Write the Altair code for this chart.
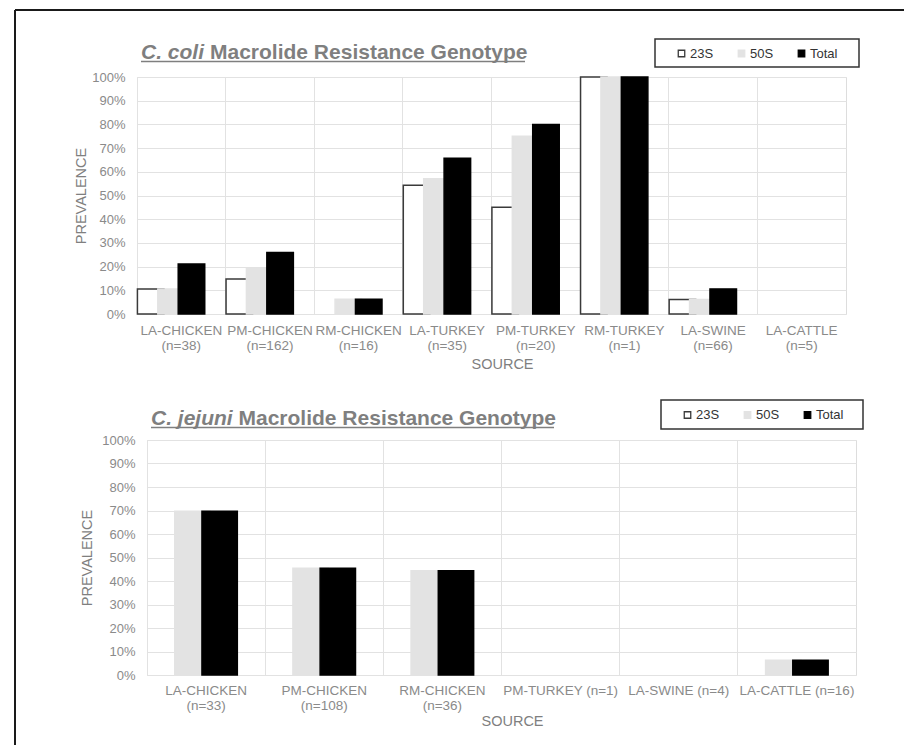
import altair as alt
import pandas as pd

# ---------------- data ----------------
SERIES = ["23S", "50S", "Total"]
SERIES_FILL = ["#ffffff", "#e3e3e3", "#000000"]
SERIES_STROKE = ["#3a3a3a", "#e3e3e3", "#000000"]

COLI_SOURCES = ["LA-CHICKEN\n(n=38)", "PM-CHICKEN\n(n=162)", "RM-CHICKEN\n(n=16)",
                "LA-TURKEY\n(n=35)", "PM-TURKEY\n(n=20)", "RM-TURKEY\n(n=1)",
                "LA-SWINE\n(n=66)", "LA-CATTLE\n(n=5)"]
COLI_23S = [0.105, 0.148, 0.0, 0.543, 0.45, 1.0, 0.061, 0.0]
COLI_50S = [0.105, 0.191, 0.0625, 0.571, 0.75, 1.0, 0.061, 0.0]
COLI_TOTAL = [0.211, 0.259, 0.0625, 0.657, 0.80, 1.0, 0.106, 0.0]

JEJUNI_SOURCES = ["LA-CHICKEN\n(n=33)", "PM-CHICKEN\n(n=108)", "RM-CHICKEN\n(n=36)",
                  "PM-TURKEY (n=1)", "LA-SWINE (n=4)", "LA-CATTLE (n=16)"]
JEJUNI_23S = [0.0, 0.0, 0.0, 0.0, 0.0, 0.0]
JEJUNI_50S = [0.697, 0.454, 0.444, 0.0, 0.0, 0.0625]
JEJUNI_TOTAL = [0.697, 0.454, 0.444, 0.0, 0.0, 0.0625]

Y_TICKS = [0.0, 0.1, 0.2, 0.3, 0.4, 0.5, 0.6, 0.7, 0.8, 0.9, 1.0]

TITLE_REST = "Macrolide Resistance Genotype"

# ---------------- styles ----------------
FONT = "Liberation Sans"
GRID = "#e2e2e2"
LABEL = "#8a8a8a"
AXTITLE = "#7f7f7f"
TITLE = "#7f7f7f"


def long_table(sources, v23, v50, vtot):
    rows = []
    for s, vals in zip(SERIES, [v23, v50, vtot]):
        for src, v in zip(sources, vals):
            rows.append({"source": src, "series": s, "value": v})
    return pd.DataFrame(rows)


def one():
    return alt.Data(values=[{"k": 0}])


def panel(sources, v23, v50, vtot, species, g, extra=None):
    df = long_table(sources, v23, v50, vtot)
    xscale = alt.Scale(domain=sources, paddingInner=0, paddingOuter=0)

    label_axis = alt.Axis(
        orient="bottom", title="SOURCE", titleFontSize=14.5, titleFontWeight="normal",
        titleColor=AXTITLE, titlePadding=g["x_title_pad"], titleX=365,
        labelAngle=0, labelFontSize=13.5, labelColor=LABEL, labelLineHeight=15,
        labelPadding=g["x_label_pad"], labelExpr="split(datum.label, '\\n')",
        labelLimit=400, ticks=False, domain=False, grid=False,
    )
    grid_axis = alt.Axis(
        orient="top", title=None, labels=False, ticks=False, domain=False,
        grid=True, gridColor=GRID, gridWidth=1, bandPosition=0,
    )
    legend = alt.Legend(
        title=None, orient="none", legendX=g["leg_x"], legendY=g["leg_y"],
        direction="horizontal", symbolType="square", symbolSize=42,
        symbolStrokeWidth=1.3, labelFontSize=13, labelColor="#333333",
        labelFont=FONT, columnPadding=21, labelOffset=2, padding=0,
        gridAlign="none",
    )

    grid_layer = alt.Chart(df).mark_point(opacity=0).encode(
        x=alt.X("source:N", sort=sources, scale=xscale, axis=grid_axis)
    )

    bars = alt.Chart(df).transform_filter("datum.value > 0").mark_bar(
        width=alt.RelativeBandSize(1.3), strokeWidth=1.5
    ).encode(
        x=alt.X("source:N", sort=sources, scale=xscale, axis=label_axis),
        xOffset=alt.XOffset("series:N", sort=SERIES,
                            scale=alt.Scale(domain=SERIES, paddingInner=0, paddingOuter=0.672)),
        y=alt.Y("value:Q", stack=None, scale=alt.Scale(domain=[0, 1], nice=False),
                axis=alt.Axis(values=Y_TICKS, format=".0%", labelFontSize=13,
                              labelColor=LABEL, labelPadding=12, ticks=False, domain=False,
                              grid=True, gridColor=GRID, title="PREVALENCE",
                              titleFontSize=14.5, titleFontWeight="normal",
                              titleColor=AXTITLE, titlePadding=g["y_title_pad"])),
        fill=alt.Fill("series:N", scale=alt.Scale(domain=SERIES, range=SERIES_FILL), legend=legend),
        stroke=alt.Stroke("series:N", scale=alt.Scale(domain=SERIES, range=SERIES_STROKE), legend=legend),
    )

    t1 = alt.Chart(one()).mark_text(
        text=species, font=FONT, fontSize=21, fontWeight="bold", fontStyle="italic",
        color=TITLE, align="left", baseline="alphabetic",
    ).encode(x=alt.value(4), y=alt.value(g["title_y"]))
    t2 = alt.Chart(one()).mark_text(
        text=TITLE_REST, font=FONT, fontSize=21, fontWeight="bold",
        color=TITLE, align="left", baseline="alphabetic",
    ).encode(x=alt.value(g["rest_x"]), y=alt.value(g["title_y"]))
    ul = alt.Chart(one()).mark_rule(color=TITLE, strokeWidth=1.5).encode(
        x=alt.value(4), x2=alt.value(g["ul_x2"]), y=alt.value(g["ul_y"])
    )
    box = alt.Chart(one()).mark_rect(filled=False, stroke="#333333", strokeWidth=1.5).encode(
        x=alt.value(g["box"][0]), x2=alt.value(g["box"][1]),
        y=alt.value(g["box"][2]), y2=alt.value(g["box"][3]),
    )
    layers = [grid_layer, bars, t1, t2, ul, box] + (extra or [])
    return alt.layer(*layers).resolve_axis(x="independent").properties(
        width=g["w"], height=g["h"]
    )


# outer frame (left and top edges of the figure border), relative to top plot
frame_top = alt.Chart(one()).mark_rule(color="#1a1a1a", strokeWidth=2).encode(
    x=alt.value(-122), x2=alt.value(767), y=alt.value(-67)
)
frame_left = alt.Chart(one()).mark_rule(color="#1a1a1a", strokeWidth=2).encode(
    x=alt.value(-122), y=alt.value(-67), y2=alt.value(668)
)

top_geo = dict(w=709, h=237, title_y=-18.3, rest_x=73, ul_x2=388, ul_y=-15.5,
               leg_x=538, leg_y=-30, box=(518, 722, -38, -10),
               x_title_pad=6, x_label_pad=9, y_title_pad=3)
bot_geo = dict(w=709, h=235, title_y=-15, rest_x=91.5, ul_x2=407, ul_y=-12.5,
               leg_x=534, leg_y=-31.5, box=(514, 716, -40, -11),
               x_title_pad=3, x_label_pad=8, y_title_pad=7)

top = panel(COLI_SOURCES, COLI_23S, COLI_50S, COLI_TOTAL, "C. coli", top_geo,
            extra=[frame_top, frame_left])
bottom = panel(JEJUNI_SOURCES, JEJUNI_23S, JEJUNI_50S, JEJUNI_TOTAL, "C. jejuni", bot_geo)

spacer = alt.Chart(one()).mark_point(opacity=0).encode(
    x=alt.value(0), y=alt.value(0)
).properties(width=1, height=235, view=alt.ViewBackground(stroke="transparent"))

RES = dict(x="independent", y="independent", fill="independent",
           stroke="independent", xOffset="independent")

bottom_row = alt.hconcat(spacer, bottom, spacing=9, bounds="flush") \
    .resolve_scale(**RES).resolve_legend(fill="independent", stroke="independent")

chart = alt.vconcat(top, bottom_row, spacing=126, bounds="flush") \
    .resolve_scale(**RES).resolve_legend(fill="independent", stroke="independent") \
    .properties(padding={"left": 5, "top": 0, "right": 0, "bottom": 0}) \
    .configure_view(stroke=GRID) \
    .configure(font=FONT, background="white")

chart.save("out.html", embed_options={"renderer": "svg", "actions": False})
